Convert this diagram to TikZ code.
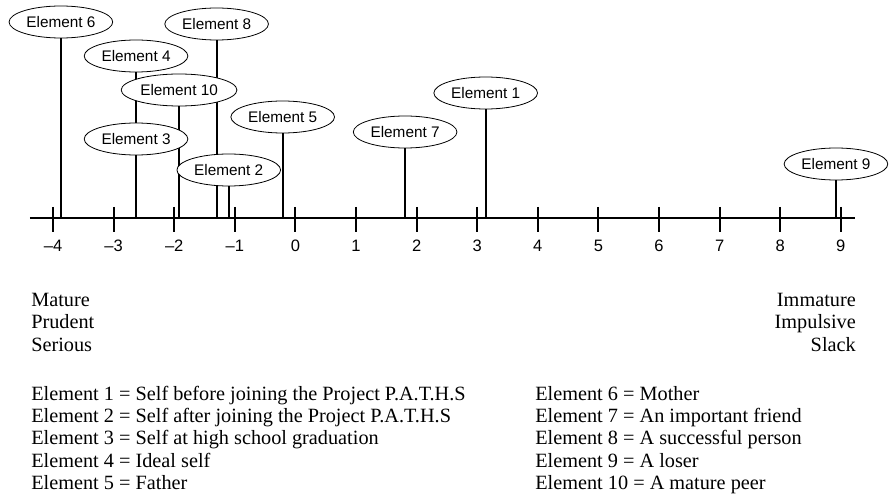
\documentclass[tikz,border=0pt]{standalone}
\usepackage{fontspec}
\setmainfont{Liberation Serif}
\newfontfamily\labelfont{Liberation Sans}
\usepackage{tikz}
\usetikzlibrary{shapes.geometric,backgrounds}

\begin{document}
\begin{tikzpicture}[x=45.45pt,y=0.75pt,
    elem/.style={ellipse,draw,line width=0.6pt,fill=white,minimum height=24pt,
        inner xsep=1.6pt,inner ysep=0pt,font=\labelfont\fontsize{11.5}{13}\selectfont},
    stem/.style={line width=1.6pt},
    legend/.style={align=left,anchor=base west,inner sep=0pt,
        font=\fontsize{15.2}{16.8}\selectfont}]
\useasboundingbox (-4.875,218) rectangle (9.795,-278);
% scale
\draw[line width=1.8pt] (-4.38,0) -- (9.23,0);
\foreach \x in {-4,...,9}
    \draw[line width=1.6pt] (\x,11) -- (\x,-14)
        node[anchor=base,inner sep=0pt,font=\labelfont\fontsize{12.4}{14}\selectfont] (t\x) at (\x,-34)
        {\ifnum\x<0 \textendash\number-\x\else\x\fi};
% elements
\foreach \n/\v/\h in {6/-3.87/196, 4/-2.63/162, 8/-1.30/194, 10/-1.92/128, 3/-2.63/79,
                      2/-1.10/48, 5/-0.21/101, 7/1.81/86, 1/3.14/125, 9/8.92/54} {
    \coordinate (p\n) at (\v,0);
    \node[elem] (e\n) at (\v,\h) {Element \n};
}
\begin{scope}[on background layer]
    \foreach \n in {1,...,10}
        \draw[stem] (e\n.south) -- (p\n);
\end{scope}
% poles and key (base = last line)
\node[legend] (left) at (-4.363,-133.3) {Mature\\Prudent\\Serious};
\node[legend,align=right,anchor=base east] (right) at (9.251,-133.3) {Immature\\Impulsive\\Slack};
\node[legend] (keyA) at (-4.363,-271.6) {Element 1 = Self before joining the Project P.A.T.H.S\\
    Element 2 = Self after joining the Project P.A.T.H.S\\
    Element 3 = Self at high school graduation\\
    Element 4 = Ideal self\\
    Element 5 = Father};
\node[legend] (keyB) at (3.954,-271.6) {Element 6 = Mother\\
    Element 7 = An important friend\\
    Element 8 = A successful person\\
    Element 9 = A loser\\
    Element 10 = A mature peer};
\end{tikzpicture}
\end{document}
